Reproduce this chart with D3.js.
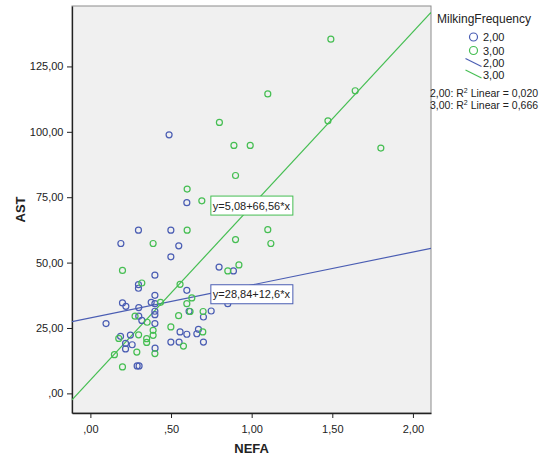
<!DOCTYPE html>
<html>
<head>
<meta charset="utf-8">
<script src="https://cdn.jsdelivr.net/npm/d3@7"></script>
<style>
  body { margin: 0; background: #fff; }
  text { font-family: "Liberation Sans", Arial, sans-serif; }
</style>
</head>
<body>
<script>
// MilkingFrequency 2,00
var nefa2 = [0.488, 0.598, 0.298, 0.499, 0.189, 0.548, 0.499, 0.400, 0.298, 0.298, 0.598,
             0.400, 0.377, 0.400, 0.199, 0.220, 0.300, 0.400, 0.400, 0.300, 0.097, 0.319,
             0.400, 0.612, 0.701, 0.749, 0.852, 0.798, 0.887, 0.187, 0.248, 0.218, 0.218,
             0.259, 0.401, 0.499, 0.550, 0.556, 0.598, 0.660, 0.670, 0.701, 0.290, 0.302];
var ast2  = [98.85, 72.9, 62.4, 62.4, 57.3, 56.4, 52.2, 45.2, 41.6, 40.2, 39.4,
             37.5, 34.8, 34.3, 34.6, 33.3, 32.8, 31.4, 30.1, 29.5, 26.7, 27.9,
             26.7, 31.4, 29.2, 31.5, 34.3, 48.3, 46.8, 21.8, 22.3, 19.1, 17.0,
             18.6, 17.3, 19.6, 19.6, 23.5, 22.6, 22.8, 24.5, 19.6, 10.5, 10.5];

// MilkingFrequency 3,00
var nefa3 = [1.491, 1.642, 1.473, 1.801, 1.100, 0.800, 0.890, 0.991, 0.900, 0.600, 0.691,
             0.600, 1.100, 0.900, 1.119, 0.389, 0.199, 0.319, 0.556, 0.921, 0.852, 0.629,
             0.598, 0.435, 0.618, 0.699, 0.277, 0.547, 0.352, 0.499, 0.389, 0.176, 0.299,
             0.349, 0.349, 0.389, 0.697, 0.577, 0.400, 0.149, 0.288, 0.199];
var ast3  = [135.4, 115.7, 104.2, 93.8, 114.5, 103.6, 94.8, 94.8, 83.3, 78.1, 73.6,
             62.4, 62.6, 58.8, 57.3, 57.3, 47.0, 42.2, 41.7, 49.1, 46.8, 36.5,
             34.3, 34.8, 31.3, 31.3, 29.5, 29.7, 27.2, 25.4, 24.1, 21.0, 22.4,
             20.9, 19.5, 22.2, 23.5, 18.1, 15.2, 14.8, 15.8, 10.1];

var groups = ["2,00", "3,00"];
var intercepts = [28.84, 5.08];
var slopes = [12.6, 66.56];
var equations = ["y=28,84+12,6*x", "y=5,08+66,56*x"];
var r2Labels = ["2,00: R", "3,00: R"];
var r2Values = ["0,020", "0,666"];
var xTicks = [0, 0.5, 1, 1.5, 2];
var yTicks = [0, 25, 50, 75, 100, 125];

var colors = ["#4a5db3", "#45be52"];

var width = 540, height = 459;
var plotL = 72, plotR = 431, plotT = 6, plotB = 413;

var svg = d3.select("body").append("svg")
    .attr("width", width)
    .attr("height", height);

var x = d3.scaleLinear().domain([-0.114, 2.112]).range([plotL, plotR]);
var y = d3.scaleLinear().domain([-7.5, 148.1]).range([plotB, plotT]);

function fmt(v) {
  var s = v.toFixed(2).replace(".", ",");
  if (s.indexOf("0,") === 0) s = s.slice(1);
  return s;
}

svg.append("rect")
   .attr("x", plotL).attr("y", plotT)
   .attr("width", plotR - plotL).attr("height", plotB - plotT)
   .attr("fill", "#f0f0f0")
   .attr("stroke", "#8c8c8c")
   .attr("stroke-width", 1);

svg.append("clipPath").attr("id", "plot")
   .append("rect")
   .attr("x", plotL).attr("y", plotT)
   .attr("width", plotR - plotL).attr("height", plotB - plotT);

// axes
var xAxis = svg.append("g")
   .attr("transform", "translate(0," + plotB + ")")
   .call(d3.axisBottom(x).tickValues(xTicks).tickFormat(fmt).tickSize(5).tickSizeOuter(0));
var yAxis = svg.append("g")
   .attr("transform", "translate(" + plotL + ",0)")
   .call(d3.axisLeft(y).tickValues(yTicks).tickFormat(fmt).tickSize(5).tickSizeOuter(0));

[xAxis, yAxis].forEach(function(a) {
  a.select(".domain").attr("stroke", "#222").attr("stroke-width", 1.3);
  a.selectAll(".tick line").attr("stroke", "#222");
  a.selectAll("text").style("font-family", "Liberation Sans, Arial, sans-serif")
   .style("font-size", "11px").attr("fill", "#222");
});
xAxis.selectAll("text").attr("dy", "1.1em");
yAxis.selectAll("text").attr("dx", "-0.05em");

// regression lines
var lines = svg.append("g").attr("clip-path", "url(#plot)");
groups.forEach(function(g, i) {
  var x0 = x.domain()[0], x1 = x.domain()[1];
  lines.append("line")
     .attr("x1", x(x0)).attr("y1", y(intercepts[i] + slopes[i] * x0))
     .attr("x2", x(x1)).attr("y2", y(intercepts[i] + slopes[i] * x1))
     .attr("stroke", colors[i])
     .attr("stroke-width", 1.2);
});

// points
var series = [
  nefa2.map(function(d, j) { return [d, ast2[j]]; }),
  nefa3.map(function(d, j) { return [d, ast3[j]]; })
];
series.forEach(function(pts, i) {
  svg.append("g").selectAll("circle")
     .data(pts)
     .enter().append("circle")
     .attr("cx", function(d) { return x(d[0]); })
     .attr("cy", function(d) { return y(d[1]); })
     .attr("r", 3)
     .attr("fill", "none")
     .attr("stroke", colors[i])
     .attr("stroke-width", 1.2);
});

// equation labels
var eqPos = [[0.747, 37.9], [0.747, 71.8]];
groups.forEach(function(g, i) {
  var lx = x(eqPos[i][0]), ly = y(eqPos[i][1]);
  var lab = svg.append("g");
  lab.append("rect")
     .attr("x", lx).attr("y", ly - 9.5)
     .attr("width", 82).attr("height", 19)
     .attr("fill", "#fff")
     .attr("stroke", colors[i])
     .attr("stroke-width", 1);
  lab.append("text")
     .attr("x", lx + 2).attr("y", ly + 4)
     .style("font-size", "11px")
     .attr("fill", "#222")
     .text(equations[i]);
});

// axis titles
svg.append("text")
   .attr("transform", "translate(25," + ((plotT + plotB) / 2) + ") rotate(-90)")
   .style("text-anchor", "middle")
   .style("font-size", "13px")
   .style("font-weight", "bold")
   .attr("fill", "#222")
   .text("AST");
svg.append("text")
   .attr("x", x(1)).attr("y", 453)
   .style("text-anchor", "middle")
   .style("font-size", "13px")
   .style("font-weight", "bold")
   .attr("fill", "#222")
   .text("NEFA");

// legend
var lg = svg.append("g");
lg.append("text").attr("x", 437).attr("y", 23)
  .style("font-size", "12px").attr("fill", "#222").text("MilkingFrequency");
groups.forEach(function(g, i) {
  var cy = 37 + i * 13.5;
  lg.append("circle").attr("cx", 473.5).attr("cy", cy).attr("r", 4)
    .attr("fill", "none").attr("stroke", colors[i]).attr("stroke-width", 1.2);
  lg.append("text").attr("x", 483).attr("y", cy + 4)
    .style("font-size", "11px").attr("fill", "#222").text(g);
});
groups.forEach(function(g, i) {
  var cy = 63 + i * 11.5;
  lg.append("line").attr("x1", 465.5).attr("y1", cy - 4.5).attr("x2", 481.5).attr("y2", cy + 3.5)
    .attr("stroke", colors[i]).attr("stroke-width", 1.2);
  lg.append("text").attr("x", 483).attr("y", cy + 4)
    .style("font-size", "11px").attr("fill", "#222").text(g);
});
groups.forEach(function(g, i) {
  var t = lg.append("text").attr("x", 430).attr("y", 97 + i * 12)
    .style("font-size", "10.5px").attr("fill", "#222");
  t.append("tspan").text(r2Labels[i]);
  t.append("tspan").attr("dy", -4).style("font-size", "7px").text("2");
  t.append("tspan").attr("dy", 4).text(" Linear = " + r2Values[i]);
});
</script>
</body>
</html>
